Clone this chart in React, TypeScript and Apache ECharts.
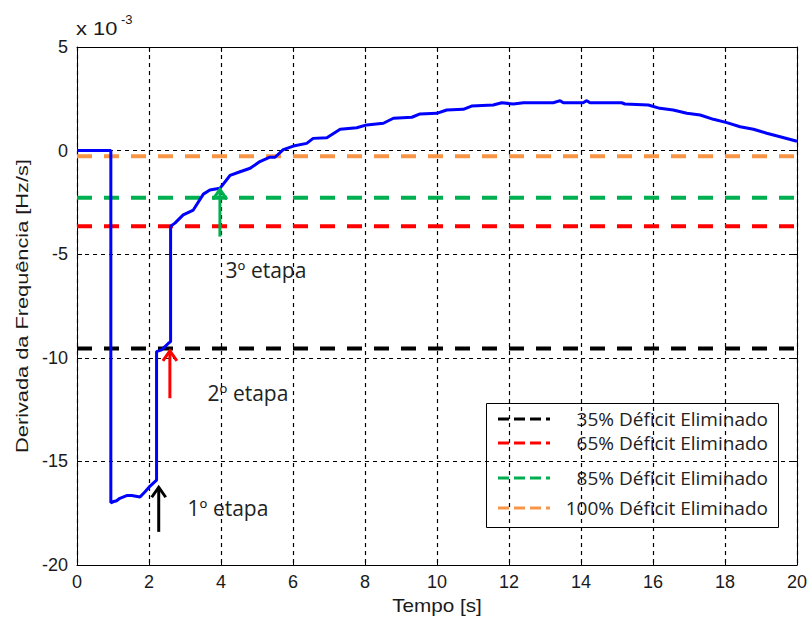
import { useEffect, useRef } from "react";
import * as echarts from "echarts";

// Blue curve: df/dt (x 10^-3 Hz/s) vs time (s)
const curveTime = [0, 0.94, 0.94, 1.0, 1.1, 1.19, 1.38, 1.52, 1.75, 1.89, 2.03, 2.21, 2.21, 2.35, 2.54, 2.6, 2.6, 2.72, 2.95, 3.23, 3.51, 3.69, 3.97, 4.25, 4.53, 4.81, 5.08, 5.36, 5.5, 5.73, 6.01, 6.38, 6.56, 6.94, 7.31, 7.77, 8.05, 8.51, 8.79, 9.3, 9.53, 9.99, 10.27, 10.73, 10.96, 11.56, 11.8, 12.12, 12.4, 13.23, 13.42, 13.51, 14.06, 14.16, 14.25, 15.13, 15.22, 15.87, 16.19, 16.56, 16.94, 17.31, 17.68, 18.05, 18.42, 18.79, 19.16, 19.53, 20];
const curveValue = [0, 0, -17.0, -16.95, -16.9, -16.78, -16.65, -16.65, -16.72, -16.46, -16.19, -15.9, -9.7, -9.62, -9.3, -9.22, -3.65, -3.5, -3.1, -2.87, -2.1, -1.9, -1.82, -1.2, -1.02, -0.85, -0.53, -0.32, -0.32, 0.05, 0.22, 0.35, 0.59, 0.62, 1.03, 1.1, 1.24, 1.32, 1.56, 1.61, 1.77, 1.8, 1.96, 1.99, 2.15, 2.2, 2.31, 2.25, 2.31, 2.31, 2.41, 2.31, 2.31, 2.41, 2.31, 2.31, 2.25, 2.2, 2.04, 1.96, 1.8, 1.72, 1.51, 1.35, 1.15, 1.03, 0.84, 0.67, 0.45];

const thresholdLabels = ["35% Déficit Eliminado", "65% Déficit Eliminado", "85% Déficit Eliminado", "100% Déficit Eliminado"];
const thresholdValues = [-9.55, -3.65, -2.27, -0.27];

const stageLabels = ["1º etapa", "2º etapa", "3º etapa"];
const arrowTime = [2.27, 2.58, 3.97];
const arrowTail = [-18.4, -11.95, -4.15];
const arrowTip = [-16.2, -9.62, -1.82];

// styles
const thresholdColors = ["#000000", "#ff0000", "#00b050", "#f79646"];
const arrowColors = ["#000000", "#ff0000", "#00b050"];
const stagePos = [[228, 508], [248, 393], [266, 270]];
const legendRows = [419, 443, 478, 508];

const AXIS_FONT = '"Liberation Sans", Arial, sans-serif';
const TEXT_FONT = '"Open Sans", "Noto Sans", sans-serif';

export default function App() {
  const ref = useRef<HTMLDivElement>(null);

  useEffect(() => {
    if (!ref.current) return;
    const chart = echarts.init(ref.current, null, { renderer: "svg" });

    const axisCommon = {
      type: "value" as const,
      axisLine: { show: true, onZero: false, lineStyle: { color: "#000", width: 1 } },
      axisTick: { show: true, inside: true, length: 5, lineStyle: { color: "#000", width: 1 } },
    };

    const option: any = {
      animation: false,
      backgroundColor: "#ffffff",
      grid: { left: 77, top: 47, width: 720, height: 518, containLabel: false },
      xAxis: [
        {
          ...axisCommon,
          min: 0, max: 20, interval: 2, position: "bottom",
          axisLabel: { color: "#1a1a1a", fontSize: 18, fontFamily: AXIS_FONT, margin: 8 },
          splitLine: { show: true, lineStyle: { color: "#000", type: [4, 4], width: 1.2 } },
        },
        {
          ...axisCommon,
          min: 0, max: 20, interval: 2, position: "top",
          axisLabel: { show: false },
          splitLine: { show: false },
        },
      ],
      yAxis: [
        {
          ...axisCommon,
          min: -20, max: 5, interval: 5, position: "left",
          axisLabel: { color: "#1a1a1a", fontSize: 18, fontFamily: AXIS_FONT, margin: 9 },
          splitLine: { show: true, lineStyle: { color: "#000", type: [4, 4], width: 1.2 } },
        },
        {
          ...axisCommon,
          min: -20, max: 5, interval: 5, position: "right",
          axisLabel: { show: false },
          splitLine: { show: false },
        },
      ],
      series: [
        ...thresholdValues.map((v, i) => ({
          type: "line",
          name: thresholdLabels[i],
          data: [[0, v], [20, v]],
          showSymbol: false,
          silent: true,
          z: 2,
          lineStyle: { color: thresholdColors[i], width: 4, type: [15, 12] },
        })),
        {
          type: "line",
          name: "df/dt",
          data: curveTime.map((t, i) => [t, curveValue[i]]),
          showSymbol: false,
          z: 3,
          lineStyle: { color: "#0000ff", width: 3 },
        },
        {
          type: "custom",
          z: 4,
          data: arrowTime.map((t, i) => [t, arrowTail[i], arrowTip[i]]),
          encode: { x: 0, y: [1, 2] },
          renderItem: (params: any, api: any) => {
            const x = api.value(0);
            const tail = api.coord([x, api.value(1)]);
            const tip = api.coord([x, api.value(2)]);
            const color = arrowColors[params.dataIndex];
            return {
              type: "group",
              children: [
                { type: "line", shape: { x1: tail[0], y1: tail[1], x2: tip[0], y2: tip[1] + 1 }, style: { stroke: color, lineWidth: 3 } },
                {
                  type: "polyline",
                  shape: { points: [[tip[0] - 7, tip[1] + 11], [tip[0], tip[1] + 1], [tip[0] + 7, tip[1] + 11]] },
                  style: { stroke: color, lineWidth: 3, fill: null },
                },
              ],
            };
          },
        },
      ],
      graphic: [
        { type: "text", x: 76, y: 19, scaleX: 1.15, style: { text: "x 10", fontSize: 19, fontFamily: AXIS_FONT, fill: "#1a1a1a" } },
        { type: "text", x: 121, y: 13, style: { text: "-3", fontSize: 13, fontFamily: AXIS_FONT, fill: "#1a1a1a" } },
        {
          type: "text", x: 22, y: 306, rotation: Math.PI / 2, scaleX: 1.28,
          style: { text: "Derivada da Frequência [Hz/s]", fontSize: 17, fontFamily: AXIS_FONT, fill: "#1a1a1a", align: "center", verticalAlign: "middle" },
        },
        {
          type: "text", x: 437, y: 606, scaleX: 1.15,
          style: { text: "Tempo [s]", fontSize: 18, fontFamily: AXIS_FONT, fill: "#1a1a1a", align: "center", verticalAlign: "middle" },
        },
        ...stageLabels.map((s, i) => ({
          type: "text", x: stagePos[i][0], y: stagePos[i][1], z: 10,
          style: { text: s, fontSize: 21, fontFamily: TEXT_FONT, fill: "#222", align: "center", verticalAlign: "middle" },
        })),
        {
          type: "group", z: 20,
          children: [
            { type: "rect", shape: { x: 486.5, y: 403.5, width: 292, height: 124 }, style: { fill: "#ffffff", stroke: "#000", lineWidth: 1 } },
            ...thresholdLabels.flatMap((lab, i) => [
              { type: "line", shape: { x1: 498, y1: legendRows[i], x2: 550, y2: legendRows[i] }, style: { stroke: thresholdColors[i], lineWidth: 3, lineDash: [11, 5] } },
              { type: "text", x: 768, y: legendRows[i], style: { text: lab, fontSize: 19, fontFamily: TEXT_FONT, fill: "#222", align: "right", verticalAlign: "middle" } },
            ]),
          ],
        },
      ],
    };

    chart.setOption(option);
    return () => chart.dispose();
  }, []);

  return <div ref={ref} style={{ position: "fixed", left: 0, top: 0, width: 810, height: 624, background: "#fff" }} />;
}
